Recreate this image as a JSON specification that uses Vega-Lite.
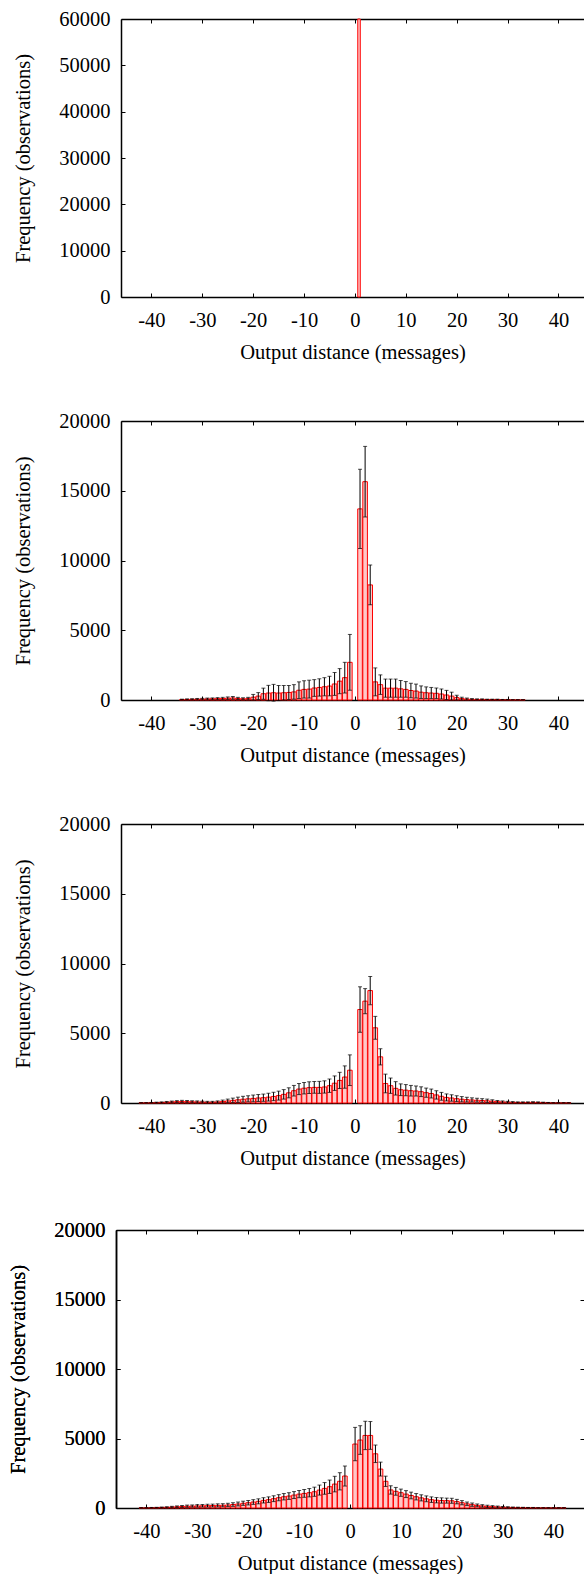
{
"$schema": "https://vega.github.io/schema/vega-lite/v6.json",
"padding": {"left": 8, "top": 9, "right": 0, "bottom": 0},
"background": "white",
"config": {
 "font": "Liberation Serif",
 "view": {"stroke": null},
 "axis": {"domainColor": "black", "domainWidth": 1.5, "tickColor": "black", "tickWidth": 1, "tickSize": -4, "labelColor": "black", "labelFontSize": 20.5, "labelFont": "Liberation Serif", "titleFont": "Liberation Serif", "titleFontSize": 20.5, "titleFontWeight": "normal", "titleColor": "black", "grid": false, "labelFlush": false, "labelOverlap": false, "labelExpr": "'' + datum.value"},
 "axisBottom": {"labelPadding": 17, "titlePadding": 12},
 "axisLeft": {"labelPadding": 15, "titlePadding": 25},
 "axisTop": {"labels": false},
 "axisRight": {"labels": false, "domain": false}
},
"datasets": {
 "p1": [{"x": 1, "count": 60000, "err": 0}],
 "p2": [
  {"x":-34,"count":30,"err":30},{"x":-33,"count":40,"err":40},{"x":-32,"count":50,"err":40},{"x":-31,"count":60,"err":50},{"x":-30,"count":70,"err":50},{"x":-29,"count":80,"err":60},{"x":-28,"count":90,"err":60},{"x":-27,"count":100,"err":70},{"x":-26,"count":110,"err":80},{"x":-25,"count":130,"err":90},{"x":-24,"count":150,"err":100},{"x":-23,"count":110,"err":80},{"x":-22,"count":90,"err":70},{"x":-21,"count":100,"err":90},{"x":-20,"count":200,"err":200},{"x":-19,"count":280,"err":250},{"x":-18,"count":450,"err":400},{"x":-17,"count":500,"err":550},{"x":-16,"count":520,"err":600},{"x":-15,"count":500,"err":540},{"x":-14,"count":520,"err":520},{"x":-13,"count":540,"err":500},{"x":-12,"count":580,"err":520},{"x":-11,"count":700,"err":600},{"x":-10,"count":760,"err":620},{"x":-9,"count":780,"err":640},{"x":-8,"count":860,"err":600},{"x":-7,"count":900,"err":620},{"x":-6,"count":950,"err":650},{"x":-5,"count":1000,"err":700},{"x":-4,"count":1150,"err":820},{"x":-3,"count":1350,"err":900},{"x":-2,"count":1600,"err":1100},{"x":-1,"count":2700,"err":2000},
  {"x":1,"count":13700,"err":2840},{"x":2,"count":15650,"err":2530},{"x":3,"count":8250,"err":1430},{"x":4,"count":1300,"err":1000},{"x":5,"count":1100,"err":700},{"x":6,"count":850,"err":650},{"x":7,"count":850,"err":650},{"x":8,"count":850,"err":650},{"x":9,"count":800,"err":600},{"x":10,"count":760,"err":560},{"x":11,"count":680,"err":520},{"x":12,"count":640,"err":500},{"x":13,"count":560,"err":450},{"x":14,"count":520,"err":420},{"x":15,"count":500,"err":400},{"x":16,"count":480,"err":380},{"x":17,"count":430,"err":360},{"x":18,"count":360,"err":330},{"x":19,"count":280,"err":280},{"x":20,"count":170,"err":170},{"x":21,"count":100,"err":100},{"x":22,"count":70,"err":70},{"x":23,"count":50,"err":50},{"x":24,"count":40,"err":40},{"x":25,"count":40,"err":40},{"x":26,"count":30,"err":30},{"x":27,"count":30,"err":30},{"x":28,"count":30,"err":30},{"x":29,"count":20,"err":20},{"x":30,"count":20,"err":20},{"x":31,"count":10,"err":10},{"x":32,"count":10,"err":10},{"x":33,"count":10,"err":10}
 ],
 "p3": [
  {"x":-42,"count":10,"err":10},{"x":-41,"count":10,"err":10},{"x":-40,"count":20,"err":20},{"x":-39,"count":30,"err":30},{"x":-38,"count":40,"err":40},{"x":-37,"count":60,"err":50},{"x":-36,"count":80,"err":60},{"x":-35,"count":100,"err":70},{"x":-34,"count":110,"err":80},{"x":-33,"count":100,"err":80},{"x":-32,"count":90,"err":70},{"x":-31,"count":80,"err":70},{"x":-30,"count":70,"err":60},{"x":-29,"count":60,"err":60},{"x":-28,"count":60,"err":60},{"x":-27,"count":80,"err":70},{"x":-26,"count":110,"err":100},{"x":-25,"count":150,"err":130},{"x":-24,"count":190,"err":160},{"x":-23,"count":230,"err":190},{"x":-22,"count":270,"err":210},{"x":-21,"count":300,"err":220},{"x":-20,"count":330,"err":240},{"x":-19,"count":360,"err":250},{"x":-18,"count":380,"err":260},{"x":-17,"count":420,"err":280},{"x":-16,"count":470,"err":300},{"x":-15,"count":530,"err":320},{"x":-14,"count":620,"err":340},{"x":-13,"count":730,"err":360},{"x":-12,"count":880,"err":380},{"x":-11,"count":1000,"err":400},{"x":-10,"count":1060,"err":410},{"x":-9,"count":1100,"err":420},{"x":-8,"count":1120,"err":420},{"x":-7,"count":1120,"err":430},{"x":-6,"count":1150,"err":440},{"x":-5,"count":1240,"err":480},{"x":-4,"count":1420,"err":520},{"x":-3,"count":1620,"err":580},{"x":-2,"count":1860,"err":800},{"x":-1,"count":2350,"err":1100},
  {"x":1,"count":6700,"err":1630},{"x":2,"count":7300,"err":900},{"x":3,"count":8060,"err":1010},{"x":4,"count":5390,"err":820},{"x":5,"count":3310,"err":580},{"x":6,"count":1400,"err":670},{"x":7,"count":1240,"err":550},{"x":8,"count":1050,"err":480},{"x":9,"count":950,"err":420},{"x":10,"count":920,"err":400},{"x":11,"count":880,"err":380},{"x":12,"count":860,"err":360},{"x":13,"count":810,"err":350},{"x":14,"count":740,"err":330},{"x":15,"count":680,"err":320},{"x":16,"count":580,"err":300},{"x":17,"count":480,"err":280},{"x":18,"count":400,"err":250},{"x":19,"count":360,"err":230},{"x":20,"count":310,"err":210},{"x":21,"count":270,"err":190},{"x":22,"count":240,"err":170},{"x":23,"count":220,"err":150},{"x":24,"count":200,"err":140},{"x":25,"count":180,"err":130},{"x":26,"count":160,"err":120},{"x":27,"count":130,"err":100},{"x":28,"count":100,"err":80},{"x":29,"count":80,"err":70},{"x":30,"count":60,"err":60},{"x":31,"count":50,"err":50},{"x":32,"count":40,"err":40},{"x":33,"count":40,"err":40},{"x":34,"count":40,"err":40},{"x":35,"count":50,"err":40},{"x":36,"count":40,"err":40},{"x":37,"count":30,"err":30},{"x":38,"count":20,"err":20},{"x":39,"count":10,"err":10},{"x":40,"count":10,"err":10},{"x":41,"count":10,"err":10},{"x":42,"count":10,"err":10}
 ],
 "p4": [
  {"x":-41,"count":10,"err":10},{"x":-40,"count":10,"err":10},{"x":-39,"count":20,"err":20},{"x":-38,"count":30,"err":20},{"x":-37,"count":40,"err":30},{"x":-36,"count":50,"err":40},{"x":-35,"count":70,"err":50},{"x":-34,"count":90,"err":60},{"x":-33,"count":110,"err":70},{"x":-32,"count":130,"err":80},{"x":-31,"count":140,"err":80},{"x":-30,"count":150,"err":90},{"x":-29,"count":160,"err":90},{"x":-28,"count":170,"err":100},{"x":-27,"count":180,"err":100},{"x":-26,"count":190,"err":110},{"x":-25,"count":200,"err":110},{"x":-24,"count":220,"err":120},{"x":-23,"count":250,"err":130},{"x":-22,"count":290,"err":140},{"x":-21,"count":340,"err":150},{"x":-20,"count":380,"err":160},{"x":-19,"count":430,"err":170},{"x":-18,"count":480,"err":180},{"x":-17,"count":550,"err":190},{"x":-16,"count":600,"err":200},{"x":-15,"count":670,"err":210},{"x":-14,"count":740,"err":220},{"x":-13,"count":810,"err":230},{"x":-12,"count":860,"err":240},{"x":-11,"count":930,"err":250},{"x":-10,"count":1000,"err":260},{"x":-9,"count":1050,"err":280},{"x":-8,"count":1100,"err":300},{"x":-7,"count":1170,"err":330},{"x":-6,"count":1290,"err":360},{"x":-5,"count":1410,"err":420},{"x":-4,"count":1530,"err":480},{"x":-3,"count":1720,"err":560},{"x":-2,"count":1920,"err":620},{"x":-1,"count":2300,"err":720},
  {"x":1,"count":4600,"err":1200},{"x":2,"count":4890,"err":1030},{"x":3,"count":5220,"err":1020},{"x":4,"count":5220,"err":1000},{"x":5,"count":3900,"err":630},{"x":6,"count":2800,"err":500},{"x":7,"count":1920,"err":370},{"x":8,"count":1300,"err":300},{"x":9,"count":1200,"err":280},{"x":10,"count":1100,"err":260},{"x":11,"count":1000,"err":250},{"x":12,"count":900,"err":240},{"x":13,"count":810,"err":230},{"x":14,"count":730,"err":220},{"x":15,"count":660,"err":210},{"x":16,"count":600,"err":200},{"x":17,"count":560,"err":190},{"x":18,"count":540,"err":190},{"x":19,"count":530,"err":180},{"x":20,"count":520,"err":180},{"x":21,"count":460,"err":160},{"x":22,"count":380,"err":150},{"x":23,"count":300,"err":130},{"x":24,"count":240,"err":120},{"x":25,"count":190,"err":100},{"x":26,"count":150,"err":90},{"x":27,"count":120,"err":80},{"x":28,"count":100,"err":70},{"x":29,"count":80,"err":60},{"x":30,"count":60,"err":50},{"x":31,"count":50,"err":40},{"x":32,"count":40,"err":30},{"x":33,"count":30,"err":30},{"x":34,"count":30,"err":20},{"x":35,"count":20,"err":20},{"x":36,"count":20,"err":20},{"x":37,"count":10,"err":10},{"x":38,"count":10,"err":10},{"x":39,"count":10,"err":10},{"x":40,"count":10,"err":10},{"x":41,"count":10,"err":10},{"x":42,"count":10,"err":10}
 ]
},
"columns": 1,
"spacing": 48,
"concat": [
 {
  "width": 468, "height": 278,
  "data": {"name": "p1"},
  "layer": [
   {"mark": {"type": "bar", "fill": "#ffc8c8", "stroke": "#ff0000", "strokeWidth": 1, "width": 2.5, "xOffset": -1},
    "encoding": {
     "x": {"field": "x", "type": "quantitative", "scale": {"domain": [-45, 44.04], "range": [5, 468], "nice": false, "zero": false}, "axis": {"orient": "bottom", "values": [-40,-30,-20,-10,0,10,20,30,40], "title": "Output distance (messages)"}},
     "y": {"field": "count", "type": "quantitative", "scale": {"domain": [0, 60000], "nice": false}, "axis": {"offset": -5, "values": [0,10000,20000,30000,40000,50000,60000], "title": "Frequency (observations)"}}
    }},
   {"mark": {"type": "point", "opacity": 0},
    "encoding": {"x": {"field": "x", "type": "quantitative", "axis": {"orient": "top", "values": [-40,-30,-20,-10,0,10,20,30,40], "title": null}}}}
  ]
 },
 {
  "width": 468, "height": 279,
  "data": {"name": "p2"},
  "layer": [
   {"mark": {"type": "bar", "fill": "#ffc8c8", "stroke": "#ff0000", "strokeWidth": 1, "width": 4.6},
    "encoding": {
     "x": {"field": "x", "type": "quantitative", "scale": {"domain": [-45, 44.04], "range": [5, 468], "nice": false, "zero": false}, "axis": {"orient": "bottom", "values": [-40,-30,-20,-10,0,10,20,30,40], "title": "Output distance (messages)"}},
     "y": {"field": "count", "type": "quantitative", "scale": {"domain": [0, 20000], "nice": false}, "axis": {"offset": -5, "values": [0,5000,10000,15000,20000], "title": "Frequency (observations)"}}
    }},
   {"mark": {"type": "errorbar", "color": "black", "thickness": 1, "ticks": {"size": 4, "color": "black"}},
    "encoding": {"x": {"field": "x", "type": "quantitative", "axis": null}, "y": {"field": "count", "type": "quantitative", "axis": {"offset": -5, "values": [0,5000,10000,15000,20000], "title": "Frequency (observations)"}}, "yError": {"field": "err"}}},
   {"mark": {"type": "point", "opacity": 0},
    "encoding": {"x": {"field": "x", "type": "quantitative", "axis": {"orient": "top", "values": [-40,-30,-20,-10,0,10,20,30,40], "title": null}}}}
  ]
 },
 {
  "width": 468, "height": 279,
  "data": {"name": "p3"},
  "layer": [
   {"mark": {"type": "bar", "fill": "#ffc8c8", "stroke": "#ff0000", "strokeWidth": 1, "width": 4.6},
    "encoding": {
     "x": {"field": "x", "type": "quantitative", "scale": {"domain": [-45, 44.04], "range": [5, 468], "nice": false, "zero": false}, "axis": {"orient": "bottom", "values": [-40,-30,-20,-10,0,10,20,30,40], "title": "Output distance (messages)"}},
     "y": {"field": "count", "type": "quantitative", "scale": {"domain": [0, 20000], "nice": false}, "axis": {"offset": -5, "values": [0,5000,10000,15000,20000], "title": "Frequency (observations)"}}
    }},
   {"mark": {"type": "errorbar", "color": "black", "thickness": 1, "ticks": {"size": 4, "color": "black"}},
    "encoding": {"x": {"field": "x", "type": "quantitative", "axis": null}, "y": {"field": "count", "type": "quantitative", "axis": {"offset": -5, "values": [0,5000,10000,15000,20000], "title": "Frequency (observations)"}}, "yError": {"field": "err"}}},
   {"mark": {"type": "point", "opacity": 0},
    "encoding": {"x": {"field": "x", "type": "quantitative", "axis": {"orient": "top", "values": [-40,-30,-20,-10,0,10,20,30,40], "title": null}}}}
  ]
 },
 {
  "width": 468, "height": 278,
  "data": {"name": "p4"},
  "layer": [
   {"mark": {"type": "bar", "fill": "#ffc8c8", "stroke": "#ff0000", "strokeWidth": 1, "width": 4.6},
    "encoding": {
     "x": {"field": "x", "type": "quantitative", "scale": {"domain": [-45, 45], "nice": false, "zero": false}, "axis": {"orient": "bottom", "values": [-40,-30,-20,-10,0,10,20,30,40], "title": "Output distance (messages)"}},
     "y": {"field": "count", "type": "quantitative", "scale": {"domain": [0, 20000], "nice": false}, "axis": {"orient": "left", "values": [0,5000,10000,15000,20000], "title": "Frequency (observations)"}}
    }},
   {"mark": {"type": "errorbar", "color": "black", "thickness": 1, "ticks": {"size": 4, "color": "black"}},
    "encoding": {"x": {"field": "x", "type": "quantitative", "axis": null}, "y": {"field": "count", "type": "quantitative", "axis": {"orient": "left", "values": [0,5000,10000,15000,20000], "title": "Frequency (observations)"}}, "yError": {"field": "err"}}},
   {"mark": {"type": "point", "opacity": 0},
    "encoding": {
     "x": {"field": "x", "type": "quantitative", "axis": {"orient": "top", "values": [-40,-30,-20,-10,0,10,20,30,40], "title": ".", "titleOpacity": 0, "titleX": 20, "titleY": 7, "titleAlign": "left", "titleBaseline": "bottom", "titleAngle": 0}},
     "y": {"field": "count", "type": "quantitative", "axis": {"orient": "right", "values": [0,5000,10000,15000,20000], "title": null}}}}
  ]
 }
]
}
